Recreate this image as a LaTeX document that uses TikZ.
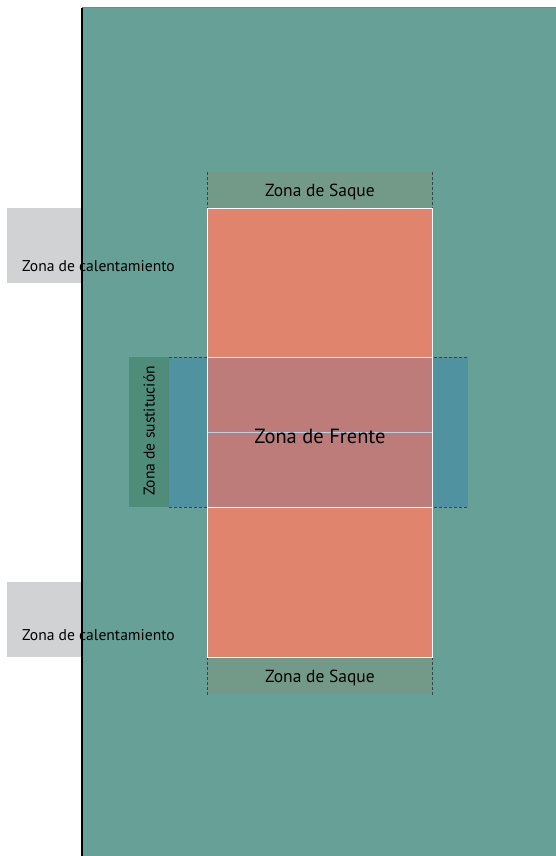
\documentclass[tikz,border=0pt]{standalone}
\usepackage{fontspec}
\setmainfont{PT Sans}
\definecolor{field}{HTML}{66A097}
\definecolor{court}{HTML}{E0846E}
\definecolor{front}{HTML}{BD7C79}
\definecolor{serve}{HTML}{739A88}
\definecolor{subblue}{HTML}{5192A0}
\definecolor{subgreen}{HTML}{4F8C79}
\definecolor{warm}{HTML}{D1D2D4}
\definecolor{midline}{HTML}{B5D3E8}
\definecolor{dashc}{HTML}{2E4A45}
\begin{document}
\begin{tikzpicture}[x=1pt,y=-1pt,
  lbl/.style={inner sep=0pt,text=black},
  dashln/.style={draw=dashc,line width=0.8pt,dash pattern=on 3pt off 2pt}]
\useasboundingbox (0,0) rectangle (556,856);
% warm-up boxes
\fill[warm] (7,208) rectangle (82,283);
\fill[warm] (7,582) rectangle (82,657);
% field
\fill[field] (82,8) rectangle (556,856);
\draw[gray,line width=1pt] (82,8) -- (556,8);
\draw[black,line width=1.2pt] (82,8) -- (82,856);
% substitution zone
\fill[subblue] (169,357) rectangle (468,507);
\draw[dashln] (169,357) -- (468,357);
\draw[dashln] (169,507) -- (468,507);
\fill[subgreen] (129,357) rectangle (169,507);
% serve zones
\fill[serve] (207,172) rectangle (432,208);
\fill[serve] (207,657) rectangle (432,693);
\draw[dashln] (207,172) -- (207,208);
\draw[dashln] (432,172) -- (432,208);
\draw[dashln] (207,657) -- (207,695);
\draw[dashln] (432,657) -- (432,695);
% court
\fill[court] (207,208) rectangle (432,657);
\fill[front] (207,357) rectangle (432,507);
\draw[white!85!front,line width=0.6pt] (207,357) -- (432,357);
\draw[white,line width=0.8pt] (207,507) -- (432,507);
\draw[midline,line width=0.8pt] (207,432) -- (432,432);
\draw[white,line width=0.8pt] (207,208) rectangle (432,657);
% labels
\node[lbl,font=\fontsize{17.5}{19}\selectfont] (saqueA) at (320,192) {Zona de Saque};
\node[lbl,font=\fontsize{17.5}{19}\selectfont] (saqueB) at (320,678) {Zona de Saque};
\node[lbl,font=\fontsize{20.5}{22}\selectfont] (frente) at (320,436) {Zona de Frente};
\node[lbl,font=\fontsize{15.6}{17}\selectfont,anchor=west] (calA) at (22,266) {Zona de calentamiento};
\node[lbl,font=\fontsize{15.6}{17}\selectfont,anchor=west] (calB) at (22,635) {Zona de calentamiento};
\node[lbl,font=\fontsize{15.6}{17}\selectfont,rotate=90] (sust) at (149,431) {Zona de sustitución};
\end{tikzpicture}
\end{document}
